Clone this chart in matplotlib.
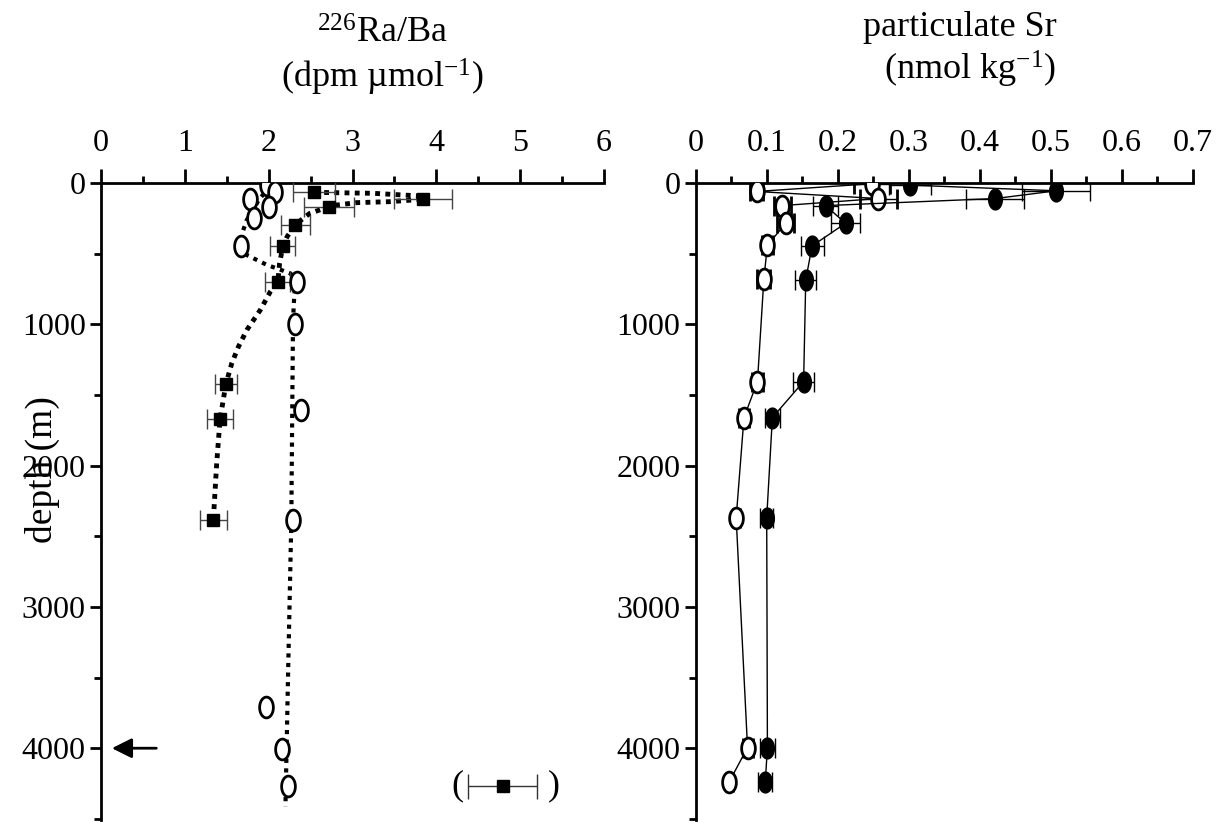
import matplotlib
matplotlib.use('Agg')
import matplotlib.pyplot as plt
import numpy as np
from matplotlib.path import Path
from matplotlib.ticker import MultipleLocator

plt.rcParams['font.family'] = ['Liberation Serif', 'DejaVu Serif']
plt.rcParams['mathtext.default'] = 'regular'

# --- 226Ra/Ba, open circles (dissolved)
ra_circ_depth = [15, 65, 115, 170, 245, 445, 700, 1000, 1605, 2385, 3710, 4005, 4265]
ra_circ_val = [1.98, 2.08, 1.78, 2.00, 1.83, 1.67, 2.34, 2.32, 2.39, 2.29, 1.97, 2.16, 2.23]
ra_circ_err = [0.05, 0.05, 0.05, 0.05, 0.05, 0.05, 0.05, 0.05, 0.05, 0.04, 0.03, 0.03, 0.03]

# --- 226Ra/Ba, filled squares (particulate)
ra_sq_depth = [65, 115, 170, 295, 445, 700, 1420, 1670, 2385]
ra_sq_val = [2.54, 3.84, 2.72, 2.32, 2.17, 2.11, 1.49, 1.42, 1.34]
ra_sq_err = [0.25, 0.35, 0.30, 0.17, 0.15, 0.15, 0.13, 0.16, 0.16]

# dotted curves
circ_fit_x = [1.99, 1.98, 1.88, 1.82, 1.74, 1.69, 1.67, 1.74, 1.86, 1.98, 2.10, 2.26,
              2.32, 2.30, 2.29, 2.27, 2.23, 2.20]
circ_fit_d = [15, 50, 120, 190, 260, 345, 446, 510, 545, 580, 605, 640,
              690, 850, 1000, 2400, 3520, 4415]
sq_fit_x = [2.54, 3.25, 3.81, 3.84, 3.45, 3.05, 2.81, 2.72, 2.49, 2.32, 2.22, 2.17,
            2.13, 2.11, 2.02, 1.90, 1.74, 1.64, 1.56, 1.49, 1.42, 1.38, 1.34]
sq_fit_d = [66, 73, 92, 115, 132, 139, 156, 168, 215, 293, 380, 446,
            569, 698, 769, 899, 1040, 1158, 1276, 1422, 1672, 1984, 2385]

# --- particulate Sr
sr_open_depth = [5, 60, 110, 160, 285, 440, 680, 1405, 1660, 2370, 3995, 4240]
sr_open_val = [0.248, 0.086, 0.257, 0.122, 0.127, 0.101, 0.096, 0.087, 0.068, 0.057, 0.073, 0.047]
sr_open_err = [0.025, 0.009, 0.026, 0.012, 0.012, 0.008, 0.009, 0.008, 0.007, 0.005, 0.007, 0.005]
sr_fill_depth = [15, 55, 110, 160, 285, 445, 685, 1405, 1660, 2370, 3995, 4240]
sr_fill_val = [0.302, 0.508, 0.422, 0.183, 0.211, 0.164, 0.155, 0.152, 0.108, 0.100, 0.101, 0.098]
sr_fill_err = [0.030, 0.048, 0.041, 0.018, 0.020, 0.016, 0.015, 0.015, 0.011, 0.009, 0.010, 0.010]

depth_ticks = [0, 1000, 2000, 3000, 4000]
ra_ticks = [0, 1, 2, 3, 4, 5, 6]
sr_ticks = [0, 0.1, 0.2, 0.3, 0.4, 0.5, 0.6, 0.7]

# tall ellipse marker (the original figure is stretched vertically)
t = np.linspace(0, 2 * np.pi, 41)
oval = Path(np.column_stack([0.66 * np.cos(t), np.sin(t)]), closed=True)

W, H = 1231, 822
fig = plt.figure(figsize=(W / 100, H / 100), dpi=100)
ax1 = fig.add_axes([101 / W, 2 / H, 503 / W, 637 / H])
ax2 = fig.add_axes([695.7 / W, 2 / H, 497 / W, 637 / H])

FS = 23
TFS = 26


def style_axis(ax, xmax, xminor, ticks, fmt):
    ax.set_ylim(4508, 0)
    ax.set_xlim(0, xmax)
    for s in ['right', 'bottom']:
        ax.spines[s].set_visible(False)
    for s in ['left', 'top']:
        ax.spines[s].set_linewidth(2)
    ax.xaxis.tick_top()
    ax.set_xticks(ticks)
    ax.set_xticklabels([fmt(v) for v in ticks])
    ax.xaxis.set_minor_locator(MultipleLocator(xminor))
    ax.set_yticks(depth_ticks)
    ax.yaxis.set_minor_locator(MultipleLocator(500))
    ax.tick_params(axis='x', which='major', direction='out', length=10, width=2,
                   labelsize=FS, pad=8)
    ax.tick_params(axis='x', which='minor', direction='out', length=5, width=2)
    ax.tick_params(axis='y', which='major', direction='out', length=8, width=2,
                   labelsize=FS, pad=3)
    ax.tick_params(axis='y', which='minor', direction='out', length=5, width=2)
    ax.patch.set_visible(False)


style_axis(ax1, 6, 0.5, ra_ticks, lambda v: '%d' % v)
style_axis(ax2, 0.7, 0.05, sr_ticks, lambda v: '0' if v == 0 else '%.1f' % v)

# left panel: dotted curves
ax1.plot(circ_fit_x, circ_fit_d, color='black', lw=3, ls=(0, (1, 1.3)), zorder=2)
ax1.plot(sq_fit_x, sq_fit_d, color='black', lw=3.5, ls=(0, (1, 1.1)), zorder=2)

ax1.errorbar(ra_circ_val, ra_circ_depth, xerr=ra_circ_err, fmt='none',
             ecolor='#333333', elinewidth=1, capsize=5, capthick=1, zorder=3)
ax1.plot(ra_circ_val, ra_circ_depth, ls='none', marker=oval, ms=15,
         mfc='white', mec='black', mew=2, zorder=4)
ax1.errorbar(ra_sq_val, ra_sq_depth, xerr=ra_sq_err, fmt='none',
             ecolor='#444444', elinewidth=1, capsize=7, capthick=1, zorder=3)
ax1.plot(ra_sq_val, ra_sq_depth, ls='none', marker='s', ms=8.5,
         mfc='black', mec='black', zorder=5)

# arrow marking bottom depth
ax1.annotate('', xy=(0.13, 4000), xytext=(0.66, 4000),
             arrowprops=dict(arrowstyle='-|>', color='black', lw=2,
                             mutation_scale=30, shrinkA=0, shrinkB=0))

# error-bar key
ax1.errorbar([4.79], [4268], xerr=[0.41], fmt='s', ms=8.5, color='black',
             ecolor='#333333', elinewidth=1, capsize=9, capthick=1)
ax1.text(4.25, 4268, '(', fontsize=TFS, ha='center', va='center')
ax1.text(5.40, 4268, ')', fontsize=TFS, ha='center', va='center')

# right panel
ax2.errorbar(sr_open_val, sr_open_depth, xerr=sr_open_err, fmt='-', color='black',
             lw=1, elinewidth=1, capsize=7, capthick=1, marker=oval, ms=15,
             mfc='white', mec='black', mew=2, zorder=3)
ax2.errorbar(sr_fill_val, sr_fill_depth, xerr=sr_fill_err, fmt='-', color='black',
             lw=1, elinewidth=1, capsize=7, capthick=1, marker=oval, ms=15,
             mfc='black', mec='black', mew=1, zorder=4)

# titles and axis label
fig.text(382 / W, 1 - 43 / H, '$^{226}$Ra/Ba', fontsize=TFS, ha='center', va='baseline')
fig.text(382 / W, 1 - 88 / H, '(dpm \u00b5mol$^{-1}$)', fontsize=TFS, ha='center',
         va='baseline')
fig.text(960 / W, 1 - 36 / H, 'particulate Sr', fontsize=TFS, ha='center', va='baseline')
fig.text(970 / W, 1 - 80 / H, '(nmol kg$^{-1}$)', fontsize=TFS, ha='center',
         va='baseline')
fig.text(42 / W, 1 - 470 / H, 'depth (m)', fontsize=TFS + 1, rotation=90,
         ha='center', va='center')

fig.savefig('out.png', dpi=100)
